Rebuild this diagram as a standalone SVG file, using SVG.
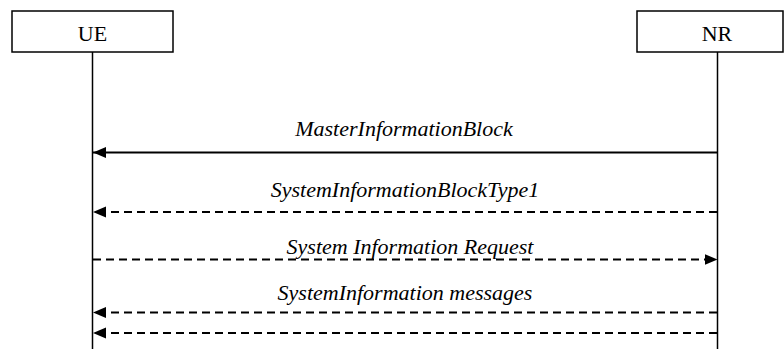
<svg xmlns="http://www.w3.org/2000/svg" width="784" height="349" viewBox="0 0 784 349">
<style>
.box{fill:#fff;stroke:#000;stroke-width:1.5}
.life{stroke:#000;stroke-width:1.5}
.msg{stroke:#000;stroke-width:2;fill:none}
.dash{stroke-dasharray:8 5}
.t{font-family:"Liberation Serif","Times New Roman",serif;font-size:22px;fill:#000}
.lbl{font-style:italic;text-anchor:middle}
</style>
<defs>
<marker id="ah" markerUnits="userSpaceOnUse" markerWidth="14" markerHeight="12" refX="13" refY="5.5" orient="auto">
<path d="M0,0 L13,5.5 L0,11 Z" fill="#000"/>
</marker>
</defs>
<g id="UE">
<rect class="box" x="12" y="11" width="161" height="41"/>
<text class="t" x="92.5" y="40.5" text-anchor="middle">UE</text>
<line class="life" x1="92.5" y1="52" x2="92.5" y2="349"/>
</g>
<g id="NR">
<rect class="box" x="637" y="11" width="146" height="41"/>
<text class="t" x="717" y="40.5" text-anchor="middle">NR</text>
<line class="life" x1="717.5" y1="52" x2="717.5" y2="349"/>
</g>
<g id="connectors">
<line class="msg" x1="717" y1="152.5" x2="93" y2="152.5" marker-end="url(#ah)"/>
<text class="t lbl" x="404" y="136">MasterInformationBlock</text>
<line class="msg dash" x1="717" y1="212" x2="93" y2="212" marker-end="url(#ah)"/>
<text class="t lbl" x="405" y="197">SystemInformationBlockType1</text>
<line class="msg dash" x1="93" y1="259.5" x2="717.5" y2="259.5" marker-end="url(#ah)"/>
<text class="t lbl" x="410" y="254">System Information Request</text>
<line class="msg dash" x1="717" y1="312.5" x2="93" y2="312.5" marker-end="url(#ah)"/>
<text class="t lbl" x="405" y="300">SystemInformation messages</text>
<line class="msg dash" x1="717" y1="333" x2="93" y2="333" marker-end="url(#ah)"/>
</g>
</svg>
